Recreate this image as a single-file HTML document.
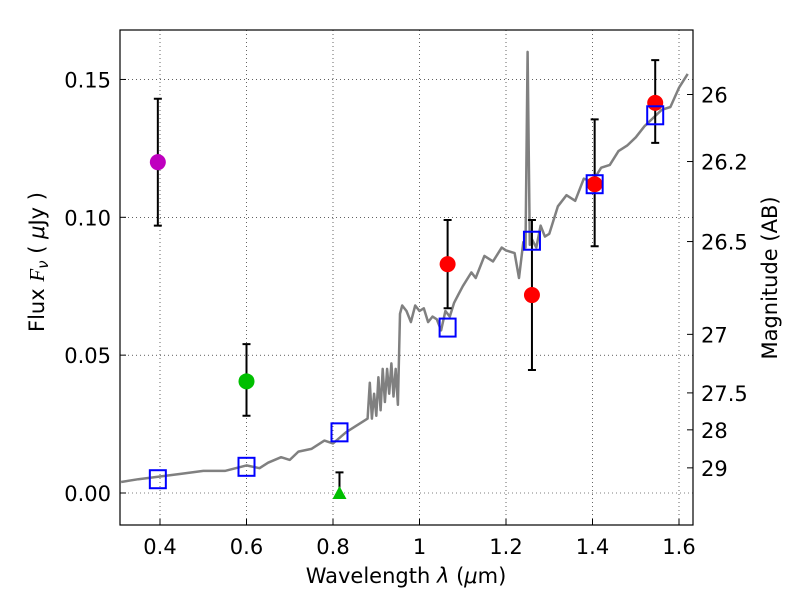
<!DOCTYPE html>
<html><head><meta charset="utf-8"><style>
body{margin:0;background:#fff}
svg text{font-family:"DejaVu Sans","Liberation Sans",sans-serif;fill:#000}
</style></head><body>
<svg id="chart" width="800" height="600" xmlns="http://www.w3.org/2000/svg">
<rect width="800" height="600" fill="#fff"/>
<g id="grid"></g><g id="spec"></g><g id="marks"></g><g id="axes"></g>
</svg>
<script>
const xTicks=[0.4,0.6,0.8,1.0,1.2,1.4,1.6];
const xTickLabels=["0.4","0.6","0.8","1","1.2","1.4","1.6"];
const yTicks=[0,0.05,0.10,0.15];
const yTickLabels=["0.00","0.05","0.10","0.15"];
const magTicks=[26,26.2,26.5,27,27.5,28,29];
const magLabels=["26","26.2","26.5","27","27.5","28","29"];
const specX=[0.31,0.35,0.4,0.45,0.5,0.55,0.6,0.63,0.65,0.68,0.7,0.72,0.75,0.78,0.8,0.83,0.85,0.87,0.88,0.885,0.89,0.895,0.9,0.905,0.91,0.915,0.92,0.925,0.93,0.935,0.94,0.945,0.95,0.955,0.96,0.97,0.98,0.99,1.0,1.01,1.02,1.03,1.04,1.05,1.06,1.07,1.08,1.09,1.1,1.12,1.13,1.15,1.17,1.19,1.2,1.22,1.23,1.24,1.245,1.25,1.255,1.26,1.27,1.28,1.29,1.3,1.32,1.34,1.36,1.38,1.4,1.42,1.44,1.46,1.48,1.5,1.52,1.54,1.56,1.58,1.6,1.62];
const specY=[0.004,0.005,0.006,0.007,0.008,0.008,0.010,0.009,0.011,0.013,0.012,0.015,0.016,0.019,0.018,0.022,0.024,0.026,0.027,0.04,0.027,0.036,0.028,0.042,0.030,0.045,0.033,0.045,0.036,0.047,0.035,0.045,0.032,0.065,0.068,0.066,0.062,0.068,0.066,0.067,0.062,0.064,0.063,0.059,0.066,0.064,0.069,0.072,0.075,0.080,0.078,0.086,0.084,0.089,0.088,0.087,0.078,0.091,0.089,0.16,0.090,0.092,0.089,0.097,0.093,0.094,0.104,0.108,0.106,0.114,0.113,0.118,0.119,0.124,0.126,0.129,0.133,0.136,0.139,0.140,0.147,0.152,0.158];
const ptX=[0.395,0.6,1.065,1.26,1.405,1.545];
const ptY=[0.120,0.0405,0.083,0.0718,0.112,0.1415];
const ptLo=[0.097,0.028,0.067,0.0446,0.0895,0.127];
const ptHi=[0.143,0.054,0.099,0.099,0.1355,0.157];
const ptColor=["#bf00bf","#00bf00","#ff0000","#ff0000","#ff0000","#ff0000"];
const limX=[0.815];const limY=[0.0];const limHi=[0.0075];
const sqX=[0.395,0.6,0.815,1.065,1.26,1.405,1.545];
const sqY=[0.005,0.0095,0.022,0.060,0.0915,0.112,0.137];
const L=120,R=693,T=30,B=525;
const xs=v=>160+(v-0.4)*432.5;
const ys=v=>493-v*2757;
const magToFlux=m=>Math.pow(10,-0.4*(m-23.9));
const NS="http://www.w3.org/2000/svg";
function mk(p,tag,a){const e=document.createElementNS(NS,tag);for(const k in a)e.setAttribute(k,a[k]);document.getElementById(p).appendChild(e);return e;}
xTicks.forEach((t,i)=>{const X=xs(t);
 let g=mk('grid','line',{x1:X,x2:X,y1:T,y2:B,stroke:'#000','stroke-width':0.6,'stroke-dasharray':'1,3'});
 
 let tk=mk('axes','line',{x1:X,x2:X,y1:B,y2:B-6,stroke:'#000'});
 
 let tx=mk('axes','text',{x:X,y:B+29,'text-anchor':'middle','font-size':21});tx.textContent=xTickLabels[i];
 });
yTicks.forEach((t,i)=>{const Y=ys(t);
 let g=mk('grid','line',{x1:L,x2:R,y1:Y,y2:Y,stroke:'#000','stroke-width':0.6,'stroke-dasharray':'1,3'});
 
 let tk=mk('axes','line',{x1:L,x2:L+6,y1:Y,y2:Y,stroke:'#000'});
 
 let tx=mk('axes','text',{x:L-9,y:Y+8,'text-anchor':'end','font-size':21});tx.textContent=yTickLabels[i];
 });
magTicks.forEach((m,i)=>{const Y=ys(magToFlux(m));
 let tk=mk('axes','line',{x1:R,x2:R-6,y1:Y,y2:Y,stroke:'#000'});
 
 let tx=mk('axes','text',{x:R+8,y:Y+8,'font-size':21});tx.textContent=magLabels[i];
 });
let d=specX.map((x,i)=>(i?'L':'M')+xs(x).toFixed(1)+','+ys(specY[i]).toFixed(1)).join('');
let sp=mk('spec','path',{d:d,fill:'none',stroke:'#808080','stroke-width':2.5,'stroke-linejoin':'round'});

ptX.forEach((x,i)=>{const X=xs(x);
 let e=mk('marks','path',{d:`M${X},${ys(ptLo[i])}V${ys(ptHi[i])}M${X-4},${ys(ptLo[i])}h8M${X-4},${ys(ptHi[i])}h8`,stroke:'#000','stroke-width':2,fill:'none'});
 
 let c=mk('marks','circle',{cx:X,cy:ys(ptY[i]),r:8,fill:ptColor[i]});
 });
limX.forEach((x,i)=>{const X=xs(x),Y=ys(limY[i]);
 let e=mk('marks','path',{d:`M${X},${Y}V${ys(limHi[i])}M${X-4},${ys(limHi[i])}h8`,stroke:'#000','stroke-width':2,fill:'none'});
 
 let t=mk('marks','path',{d:`M${X},${Y-7}L${X+7},${Y+6}L${X-7},${Y+6}Z`,fill:'#00bf00'});
 });
sqX.forEach((x,i)=>{let s=mk('marks','rect',{x:xs(x)-8,y:ys(sqY[i])-9,width:16,height:18,fill:'none',stroke:'#0000ff','stroke-width':2});
 });
let f=mk('axes','rect',{x:L,y:T,width:R-L,height:B-T,fill:'none',stroke:'#000','stroke-width':1.2});

let xl=mk('axes','text',{x:406,y:583,'text-anchor':'middle','font-size':21});
xl.innerHTML='Wavelength  <tspan font-style="italic">λ</tspan> (<tspan font-style="italic">μ</tspan>m)';

let yl=mk('axes','text',{x:0,y:0,'text-anchor':'middle','font-size':21,transform:'translate(44,262) rotate(-90)'});
yl.innerHTML='Flux  <tspan font-style="italic" font-family="Liberation Serif">F</tspan><tspan font-style="italic" font-size="15" dy="4">ν</tspan><tspan dy="-4">  ( </tspan><tspan font-style="italic">μ</tspan>Jy )';

let rl=mk('axes','text',{x:0,y:0,'text-anchor':'middle','font-size':21,transform:'translate(777,278) rotate(-90)'});
rl.textContent='Magnitude (AB)';

</script>
</body></html>
